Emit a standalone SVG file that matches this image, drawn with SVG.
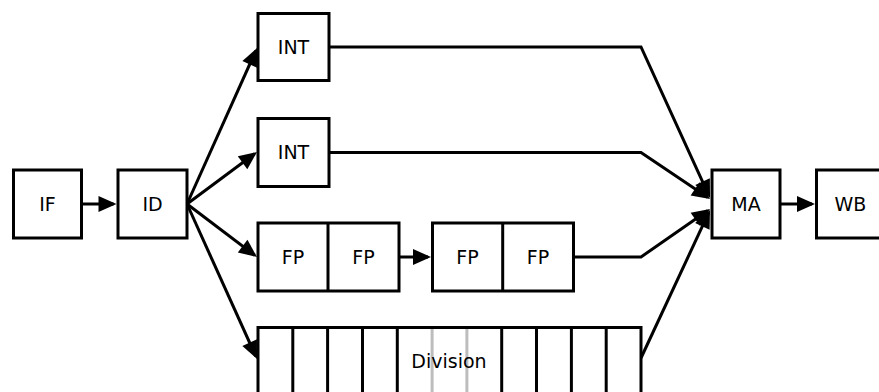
<svg xmlns="http://www.w3.org/2000/svg" width="879" height="392" viewBox="0 0 879 392">
<defs>
<marker id="ah" markerUnits="userSpaceOnUse" markerWidth="18" markerHeight="16" refX="15" refY="8" orient="auto" overflow="visible">
<path d="M0,0 L18,8 L0,16 z" fill="#000"/>
</marker>
<style>
.box{fill:#fff;stroke:#000;stroke-width:3}
.div{stroke:#000;stroke-width:3}
.gray{stroke:#bdbdbd;stroke-width:3}
.lbl{font-family:"DejaVu Sans","Liberation Sans",sans-serif;font-size:19px;fill:#000;text-anchor:middle}
.edge{fill:none;stroke:#000;stroke-width:3;stroke-linejoin:miter}
.arr{marker-end:url(#ah)}
</style>
</defs>
<rect width="879" height="392" fill="#fff"/>
<g id="connectors">
<line class="edge arr" x1="81.5" y1="204" x2="113.5" y2="204"/>
<line class="edge arr" x1="780" y1="204" x2="812" y2="204"/>
<line class="edge arr" x1="187" y1="204" x2="255.8" y2="50.7"/>
<line class="edge arr" x1="187" y1="204" x2="254.6" y2="153.8"/>
<line class="edge arr" x1="187" y1="204" x2="254.6" y2="255.2"/>
<line class="edge arr" x1="187" y1="204" x2="255.8" y2="356.3"/>
<line class="edge arr" x1="400" y1="257" x2="428" y2="257"/>
<polyline class="edge arr" points="329,47 641,47 708.8,195.3"/>
<polyline class="edge arr" points="329,152.5 641,152.5 707.5,197.3"/>
<polyline class="edge arr" points="573.5,257 641,257 707.5,210.7"/>
<polyline class="edge arr" points="641,358 708.7,212.7"/>
</g>
<g id="IF">
<rect class="box" x="13.5" y="170" width="68" height="68"/>
<text class="lbl" x="47.5" y="210.5">IF</text>
</g>
<g id="ID">
<rect class="box" x="118" y="170" width="69" height="68"/>
<text class="lbl" x="152.5" y="210.5">ID</text>
</g>
<g id="INT1">
<rect class="box" x="258" y="13.5" width="71" height="67"/>
<text class="lbl" x="293.5" y="53.5">INT</text>
</g>
<g id="INT2">
<rect class="box" x="258" y="118.5" width="71" height="68"/>
<text class="lbl" x="293.5" y="159">INT</text>
</g>
<g id="FP1">
<rect class="box" x="258" y="223" width="141" height="68"/>
<line class="div" x1="328" y1="223" x2="328" y2="291"/>
<text class="lbl" x="293" y="263.5">FP</text>
<text class="lbl" x="363.5" y="263.5">FP</text>
</g>
<g id="FP2">
<rect class="box" x="432.5" y="223" width="141" height="68"/>
<line class="div" x1="502.7" y1="223" x2="502.7" y2="291"/>
<text class="lbl" x="467.5" y="263.5">FP</text>
<text class="lbl" x="538" y="263.5">FP</text>
</g>
<g id="Division">
<rect class="box" x="258" y="327.5" width="383" height="68"/>
<line class="div" x1="292.8" y1="327.5" x2="292.8" y2="395.5"/>
<line class="div" x1="327.6" y1="327.5" x2="327.6" y2="395.5"/>
<line class="div" x1="362.5" y1="327.5" x2="362.5" y2="395.5"/>
<line class="div" x1="397.3" y1="327.5" x2="397.3" y2="395.5"/>
<line class="gray" x1="432.1" y1="329" x2="432.1" y2="395.5"/>
<line class="gray" x1="466.9" y1="329" x2="466.9" y2="395.5"/>
<line class="div" x1="501.7" y1="327.5" x2="501.7" y2="395.5"/>
<line class="div" x1="536.5" y1="327.5" x2="536.5" y2="395.5"/>
<line class="div" x1="571.4" y1="327.5" x2="571.4" y2="395.5"/>
<line class="div" x1="606.2" y1="327.5" x2="606.2" y2="395.5"/>
<text class="lbl" x="449" y="367.5">Division</text>
</g>
<g id="MA">
<rect class="box" x="712" y="170" width="68" height="68"/>
<text class="lbl" x="746" y="210.5">MA</text>
</g>
<g id="WB">
<rect class="box" x="816.5" y="170" width="68" height="68"/>
<text class="lbl" x="850.5" y="210.5">WB</text>
</g>
</svg>
